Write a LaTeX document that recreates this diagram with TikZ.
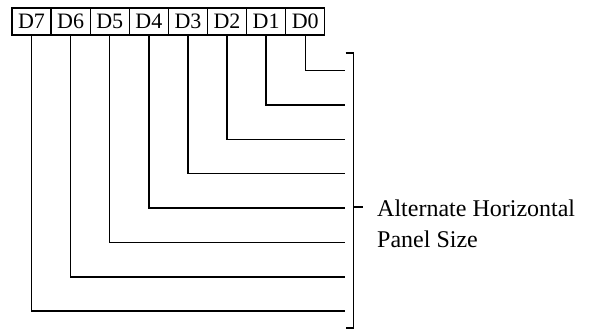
\documentclass[tikz,border=0pt]{standalone}
\usepackage{fontspec}
\setmainfont{Liberation Serif}
\begin{document}
\begin{tikzpicture}[x=1pt,y=-1pt,
  bitbox/.style={draw,line width=1.3pt,minimum width=39.1pt,minimum height=27pt,inner sep=0pt,
    font=\fontsize{22}{24}\selectfont},
  wire/.style={line width=1.4pt},
  lbl/.style={font=\fontsize{24}{31}\selectfont,align=left,inner sep=0pt,anchor=base west}]
\useasboundingbox (0,0) rectangle (589,333);
\foreach \i in {0,...,7}{
  \pgfmathsetmacro{\cx}{31.55+(7-\i)*39.1}
  \pgfmathsetmacro{\ly}{70.7+\i*34.35}
  \node[bitbox] (d\i) at (\cx,21.5) {D\i};
  \coordinate (e\i) at (345,\ly);
  \draw[wire] (d\i.south) |- (e\i);
}
\coordinate (bt) at (353.5,53);
\coordinate (bb) at (353.5,328);
\coordinate (bm) at (353.5,207);
\coordinate (btl) at (345.5,53);
\coordinate (bbl) at (345.5,328);
\coordinate (bmr) at (363,207);
\draw[wire] (btl) -- (bt) -- (bb) -- (bbl);
\draw[wire] (bm) -- (bmr);
\node[lbl] (txt) at (377,247) {Alternate Horizontal\\Panel Size};
\end{tikzpicture}
\end{document}
